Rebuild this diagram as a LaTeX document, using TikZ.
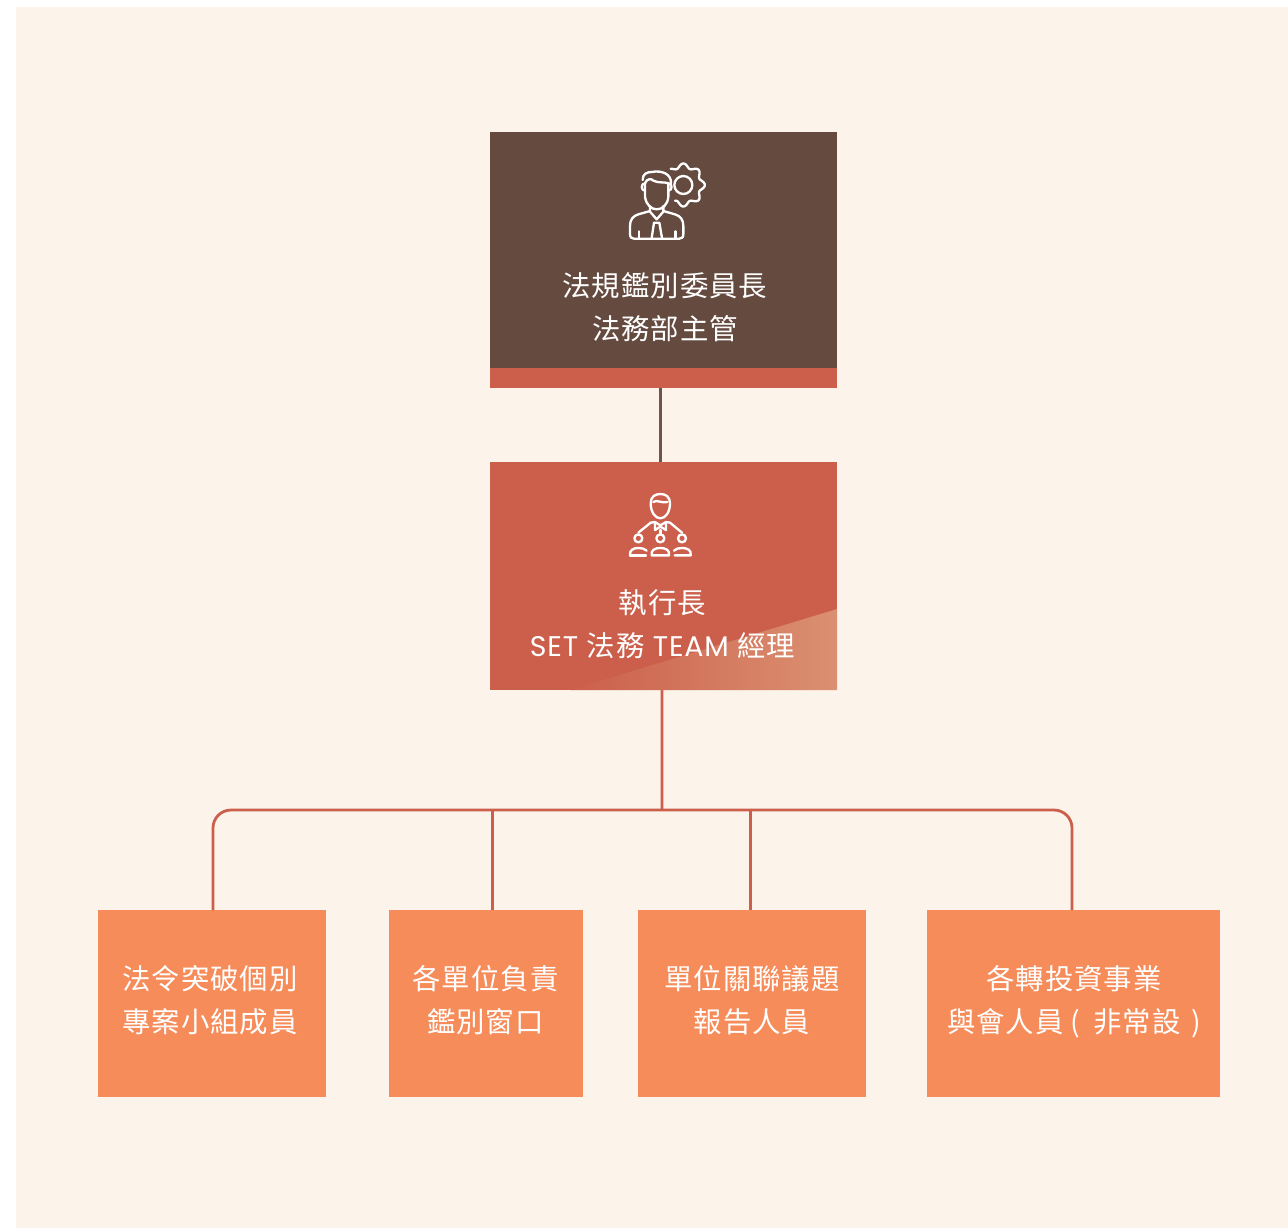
\documentclass[tikz,border=0pt]{standalone}
\usepackage{fontspec}
\setmainfont{Poppins}
\newfontfamily\cjk[LetterSpace=3.5]{Noto Sans CJK TC}
\newfontfamily\lat[LetterSpace=3]{Poppins}
\definecolor{pagebg}{HTML}{FCF3EA}
\definecolor{darkbox}{HTML}{644A3F}
\definecolor{redbox}{HTML}{CB5F4B}
\definecolor{orangebox}{HTML}{F68C59}
\definecolor{lightred}{HTML}{DB9071}
\definecolor{darkline}{HTML}{6E5449}
\tikzset{
  panel/.style={rectangle,draw=none,inner sep=0pt,outer sep=0pt},
  label/.style={text=white,align=center,inner sep=0pt,outer sep=0pt,font=\cjk\fontsize{21.3}{32.25}\selectfont},
  wire/.style={draw=redbox,line width=2.1pt},
  glyph/.style={draw=white,line width=1.75pt,line cap=round,line join=round}
}
\begin{document}
\begin{tikzpicture}[x=0.75pt,y=-0.75pt]
\useasboundingbox (0,0) rectangle (1288,1229);
\fill[white] (0,0) rectangle (1288,1229);
\fill[pagebg] (16,7) rectangle (1288,1228);

% boxes
\node[panel,fill=darkbox,anchor=north west,minimum width=260.25pt,minimum height=192pt] (chair) at (490,132) {};
\fill[redbox] (490,368) rectangle (837,388);
\node[panel,fill=redbox,anchor=north west,minimum width=260.25pt,minimum height=171pt] (ceo) at (490,462) {};
\shade[left color=redbox,right color=lightred] (570,690) -- (837,609) -- (837,690) -- cycle;
\node[panel,fill=orangebox,anchor=north west,minimum width=171pt,minimum height=140.25pt] (b1) at (98,910) {};
\node[panel,fill=orangebox,anchor=north west,minimum width=145.5pt,minimum height=140.25pt] (b2) at (389,910) {};
\node[panel,fill=orangebox,anchor=north west,minimum width=171pt,minimum height=140.25pt] (b3) at (638,910) {};
\node[panel,fill=orangebox,anchor=north west,minimum width=219.75pt,minimum height=140.25pt] (b4) at (927,910) {};

% connectors
\draw[draw=darkline,line width=2.1pt] ([xshift=-2.25pt]chair.south) -- ([xshift=-2.25pt]ceo.north);
\coordinate (hub) at (662,810);
\draw[wire] ([xshift=-1.1pt]ceo.south) -- (hub);
\draw[wire,rounded corners=13.5pt] (b1.north -| 213,0) -- (213,810) -- (1072,810) -- (b4.north -| 1072,0);
\draw[wire] (492.4,810) -- (b2.north -| 492.4,0);
\draw[wire] (750.4,810) -- (b3.north -| 750.4,0);

% texts
\node[label] (t0) at (665,307.5) {法規鑑別委員長\\法務部主管};
\node[label] (t1) at (662.5,624) {執行長\\{\lat SET }法務{\lat\ TEAM }經理};
\node[label] (t2) at (210,1000.5) {法令突破個別\\專案小組成員};
\node[label] (t3) at (485.5,1000.5) {各單位負責\\鑑別窗口};
\node[label] (t4) at (752,1000.5) {單位關聯議題\\報告人員};
\node[label] (t5) at (1074,1001.5) {各轉投資事業\\與會人員\kern5pt(\kern10pt非常設\kern8pt)};

% manager-with-gear icon
\begin{scope}[shift={(600,150)},x=0.25pt,y=-0.25pt]
  \draw[glyph] plot[domain=-128:118,samples=160,smooth] ({250+(58+6.5*cos(8*\x))*cos(\x)},{105+(58+6.5*cos(8*\x))*sin(\x)});
  \draw[glyph] (250,105) circle (27);
  \draw[glyph] (135,100) -- (135,140) .. controls (138,165) and (155,178) .. (170,178) .. controls (187,178) and (203,165) .. (205,140) -- (205,100);
  \draw[glyph] (135,122) .. controls (122,122) and (122,100) .. (135,100);
  \draw[glyph] (205,122) .. controls (218,122) and (218,100) .. (205,100);
  \draw[glyph] (128,90) .. controls (128,72) and (140,66) .. (155,66) .. controls (185,60) and (215,72) .. (213,100);
  \draw[glyph] (135,100) .. controls (140,85) and (155,85) .. (160,92) .. controls (175,100) and (195,95) .. (205,100);
  \draw[glyph] (150,168) -- (150,185) -- (170,208) -- (190,185) -- (190,168);
  \draw[glyph] (150,183) -- (115,193) .. controls (98,198) and (90,210) .. (90,228) -- (90,252) .. controls (90,262) and (94,266) .. (102,266) -- (238,266) .. controls (246,266) and (250,262) .. (250,252) -- (250,228) .. controls (250,210) and (242,198) .. (225,193) -- (190,183);
  \draw[glyph] (162,218) -- (178,218) -- (186,264);
  \draw[glyph] (162,218) -- (155,264);
  \draw[glyph] (116,244) -- (116,264);
  \draw[glyph] (226,244) -- (226,264);
\end{scope}

% leader-with-team icon
\begin{scope}[shift={(610,480)},x=0.25pt,y=-0.25pt]
  \draw[glyph] (122,70) .. controls (122,50) and (135,42) .. (151,42) .. controls (167,42) and (180,50) .. (180,70) .. controls (180,95) and (167,115) .. (151,115) .. controls (135,115) and (122,95) .. (122,70) -- cycle;
  \draw[glyph] (130,66) .. controls (142,58) and (150,70) .. (172,66);
  \draw[glyph] (135,126) -- (135,150) -- (151,140) -- (168,150) -- (168,126) -- (151,136) -- cycle;
  \draw[glyph] (135,126) -- (122,128) -- (85,158);
  \draw[glyph] (168,126) -- (180,128) -- (216,158);
  \draw[glyph] (151,150) -- (151,160);
  \draw[glyph] (85,175) circle (12);
  \draw[glyph] (151,175) circle (12);
  \draw[glyph] (216,175) circle (12);
  \draw[glyph] (60,226) .. controls (58,210) and (70,204) .. (85,204) .. controls (95,204) and (105,206) .. (110,212);
  \draw[glyph] (60,226) -- (108,226);
  \draw[glyph] (125,226) .. controls (122,210) and (135,204) .. (151,204) .. controls (167,204) and (180,210) .. (177,226) -- cycle;
  \draw[glyph] (192,212) .. controls (197,206) and (206,204) .. (216,204) .. controls (232,204) and (245,210) .. (242,226) -- (194,226);
\end{scope}
\end{tikzpicture}
\end{document}
